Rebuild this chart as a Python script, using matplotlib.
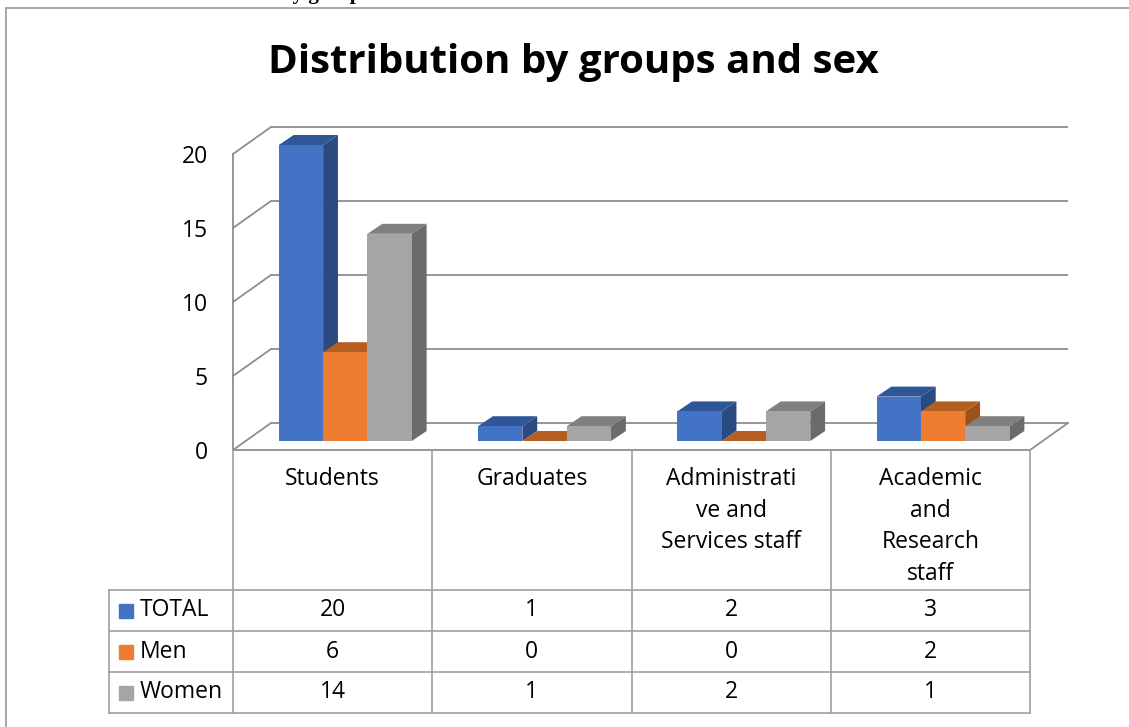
import numpy as np
import matplotlib.pyplot as plt
import matplotlib.transforms as mtransforms
from matplotlib.patches import Rectangle

plt.rcParams['font.family'] = ['Open Sans', 'DejaVu Sans']

# data
categories = ["Students", "Graduates", "Administrative and Services staff",
              "Academic and Research staff"]
cat_labels = ["Students", "Graduates", "Administrati\nve and\nServices staff",
              "Academic\nand\nResearch\nstaff"]
series_names = ["TOTAL", "Men", "Women"]
total = [20, 1, 2, 3]
men = [6, 0, 0, 2]
women = [14, 1, 2, 1]
series_values = [total, men, women]
yticks = [0, 5, 10, 15, 20]

front_cols = ["#4472C4", "#ED7D31", "#A5A5A5"]
top_cols = ["#30569A", "#B55E22", "#808080"]
side_cols = ["#2A4A80", "#9C5119", "#6B6B6B"]
line_col = "#8E8E8E"

W, H = 1129, 727
fs = 16.5
fig = plt.figure(figsize=(W / 100, H / 100), dpi=100)

# outer chart border (cut off right / bottom)
fig.add_artist(plt.Line2D([6 / W, 6 / W], [0, 1 - 8 / H], color="#A6A6A6", lw=1.4))
fig.add_artist(plt.Line2D([6 / W, 1], [1 - 8 / H, 1 - 8 / H], color="#A6A6A6", lw=1.4))

# heading of the document above, mostly cut off
fig.text(281 / W, 1 + 1.5 / H, "by groups", family="Liberation Serif",
         weight="bold", fontsize=15, va="baseline", ha="left")

fig.text(573 / W, 1 - 62 / H, "Distribution by groups and sex", fontsize=29,
         weight="bold", ha="center", va="center")

# plot area = front plane of the 3D box
px_per_unit = 14.8
ymax = 22
ax = fig.add_axes([233 / W, (H - 450) / H, 797 / W, ymax * px_per_unit / H])
ax.set_xlim(-0.5, 3.5)
ax.set_ylim(0, ymax)
for s in ax.spines.values():
    s.set_visible(False)
ax.set_xticks([])
ax.set_yticks(yticks)
ax.tick_params(axis="y", length=0, pad=18, labelsize=fs)
ax.patch.set_visible(False)

# depth of the box in data units
dx = 38 / 199.25
dy = 27 / px_per_unit

lw = 1.3
for v in yticks:
    ax.plot([-0.5 + dx, 3.5 + dx], [v + dy, v + dy], color=line_col, lw=lw,
            clip_on=False, solid_capstyle="butt")
    ax.plot([-0.5, -0.5 + dx], [v, v + dy], color=line_col, lw=lw, clip_on=False)
ax.plot([-0.5, -0.5], [0, yticks[-1]], color=line_col, lw=lw, clip_on=False)
# floor
ax.plot([-0.5, 3.5, 3.5 + dx], [0, 0, dy], color=line_col, lw=lw, clip_on=False)

# bars
bw = 0.2225
z0 = dy / 3
bdx, bdy = 0.39 * dx, 0.37 * dy
zo = 3
for i in range(len(categories)):
    for j, vals in enumerate(series_values):
        v = vals[i]
        x0 = i + dx / 3 + (j - 1.5) * bw
        x1 = x0 + bw
        top = z0 + v
        ax.fill([x1, x1 + bdx, x1 + bdx, x1], [z0, z0 + bdy, top + bdy, top],
                color=side_cols[j], lw=0, zorder=zo, clip_on=False)
        ax.fill([x0, x1, x1 + bdx, x0 + bdx], [top, top, top + bdy, top + bdy],
                color=top_cols[j], lw=0, zorder=zo + 1, clip_on=False)
        ax.bar(x0, v, bottom=z0, width=bw, align="edge", color=front_cols[j],
               lw=0, zorder=zo + 2, clip_on=False)
        zo += 3

# data table under the plot
trans = mtransforms.blended_transform_factory(ax.transData, fig.transFigure)
rows_px = [450, 590, 631, 672, 713]
fy = [1 - r / H for r in rows_px]
tcol = "#A0A0A0"
for k in range(len(categories) + 1):
    xk = -0.5 + k
    fig.add_artist(plt.Line2D([xk, xk], [fy[0], fy[-1]], color=tcol, lw=1.2,
                              transform=trans))
xleft = -0.5 - 124 / 199.25
for r in fy[1:]:
    fig.add_artist(plt.Line2D([xleft, 3.5], [r, r], color=tcol, lw=1.2,
                              transform=trans))
fig.add_artist(plt.Line2D([xleft, xleft], [fy[1], fy[-1]], color=tcol, lw=1.2,
                          transform=trans))

for i, lab in enumerate(cat_labels):
    fig.text(i, 1 - 467 / H, lab, transform=trans, ha="center", va="top",
             fontsize=fs, linespacing=1.42)

for j, vals in enumerate(series_values):
    yc = (fy[j + 1] + fy[j + 2]) / 2
    for i, v in enumerate(vals):
        fig.text(i, yc, str(v), transform=trans, ha="center", va="center",
                 fontsize=fs)
    fig.add_artist(Rectangle((119 / W, yc - 7 / H), 14 / W, 14 / H,
                             color=front_cols[j], transform=fig.transFigure))
    fig.text(140 / W, yc, series_names[j], ha="left", va="center", fontsize=fs)

fig.savefig("out.png", dpi=100)
